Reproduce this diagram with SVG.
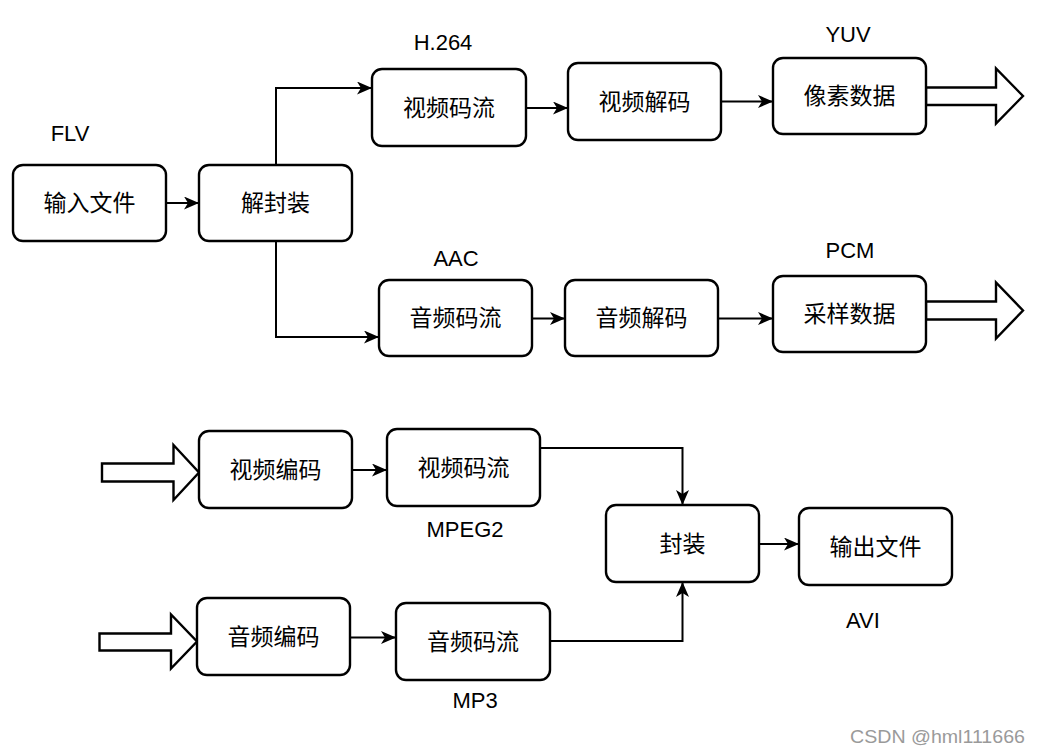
<svg xmlns="http://www.w3.org/2000/svg" width="1041" height="753" viewBox="0 0 1041 753">
<style>
.box{fill:#fff;stroke:#000;stroke-width:2.4}
.t{font-family:"Liberation Sans","Noto Sans CJK SC",sans-serif;font-size:23px;fill:#000;text-anchor:middle;dominant-baseline:central}
.lbl{font-family:"Liberation Sans","Noto Sans CJK SC",sans-serif;font-size:22px;fill:#000;text-anchor:middle}
.c{fill:none;stroke:#000;stroke-width:2;marker-end:url(#ah)}
.big{fill:#fff;stroke:#000;stroke-width:2.4;stroke-linejoin:miter}
.wm{font-family:"Liberation Sans","Noto Sans CJK SC",sans-serif;font-size:18px;fill:#9a9a9a}
</style>
<defs>
<marker id="ah" markerUnits="userSpaceOnUse" markerWidth="16" markerHeight="14" refX="15" refY="6.5" orient="auto">
<path d="M0,0 L15,6.5 L0,13 L4,6.5 z" fill="#000"/>
</marker>
</defs>
<rect width="1041" height="753" fill="#fff"/>
<g id="connectors">
<path class="c" d="M166,203 L199,203"/>
<path class="c" d="M276,165 L276,88 L372,88"/>
<path class="c" d="M276,241 L276,337 L379,337"/>
<path class="c" d="M526,108 L568,108"/>
<path class="c" d="M721,101.5 L773,101.5"/>
<path class="c" d="M532,318.5 L565,318.5"/>
<path class="c" d="M718,318.5 L773,318.5"/>
<path class="c" d="M352,470 L387,470"/>
<path class="c" d="M350,637.5 L396,637.5"/>
<path class="c" d="M540,448 L682.5,448 L682.5,505"/>
<path class="c" d="M550,641 L682.5,641 L682.5,582"/>
<path class="c" d="M759,544 L799,544"/>
</g>
<g id="bigarrows">
<path class="big" d="M926,87.5 L996,87.5 L996,68.5 L1023,96 L996,123.5 L996,105 L926,105 Z"/>
<path class="big" d="M926,301.5 L996,301.5 L996,282.5 L1023,310.5 L996,338.5 L996,319.5 L926,319.5 Z"/>
<path class="big" d="M102,463.5 L173.5,463.5 L173.5,445 L199,472.5 L173.5,500 L173.5,481.5 L102,481.5 Z"/>
<path class="big" d="M99.5,633.5 L171,633.5 L171,614.5 L197,641.5 L171,668.5 L171,650.5 L99.5,650.5 Z"/>
</g>
<g id="n-input"><rect class="box" x="13" y="165" width="153" height="76" rx="10"/><text class="t" x="89.5" y="203">输入文件</text></g>
<g id="n-demux"><rect class="box" x="199" y="165" width="153" height="76" rx="10"/><text class="t" x="275.5" y="203">解封装</text></g>
<g id="n-vstream"><rect class="box" x="372" y="69" width="154" height="77" rx="10"/><text class="t" x="449" y="107.5">视频码流</text></g>
<g id="n-vdec"><rect class="box" x="568" y="63" width="153" height="77" rx="10"/><text class="t" x="644.5" y="101.5">视频解码</text></g>
<g id="n-pixel"><rect class="box" x="773" y="58" width="153" height="76" rx="10"/><text class="t" x="849.5" y="96">像素数据</text></g>
<g id="n-astream"><rect class="box" x="379" y="280" width="153" height="76" rx="10"/><text class="t" x="455.5" y="318">音频码流</text></g>
<g id="n-adec"><rect class="box" x="565" y="280" width="153" height="76" rx="10"/><text class="t" x="641.5" y="318">音频解码</text></g>
<g id="n-sample"><rect class="box" x="773" y="276" width="153" height="76" rx="10"/><text class="t" x="849.5" y="314">采样数据</text></g>
<g id="n-venc"><rect class="box" x="199" y="431" width="153" height="77" rx="10"/><text class="t" x="275.5" y="469.5">视频编码</text></g>
<g id="n-vstream2"><rect class="box" x="387" y="429" width="153" height="77" rx="10"/><text class="t" x="463.5" y="467.5">视频码流</text></g>
<g id="n-aenc"><rect class="box" x="197" y="598" width="153" height="77" rx="10"/><text class="t" x="273.5" y="636.5">音频编码</text></g>
<g id="n-astream2"><rect class="box" x="396" y="603" width="154" height="77" rx="10"/><text class="t" x="473" y="641.5">音频码流</text></g>
<g id="n-mux"><rect class="box" x="606" y="505" width="153" height="77" rx="10"/><text class="t" x="682.5" y="543.5">封装</text></g>
<g id="n-output"><rect class="box" x="799" y="508" width="153" height="77" rx="10"/><text class="t" x="875.5" y="546.5">输出文件</text></g>
<g id="labels">
<text class="lbl" x="70" y="141">FLV</text>
<text class="lbl" x="443" y="50">H.264</text>
<text class="lbl" x="848" y="42">YUV</text>
<text class="lbl" x="456" y="266">AAC</text>
<text class="lbl" x="850" y="258">PCM</text>
<text class="lbl" x="465" y="537">MPEG2</text>
<text class="lbl" x="475" y="708">MP3</text>
<text class="lbl" x="863" y="628">AVI</text>
</g>
<text class="wm" x="850" y="743" textLength="175" lengthAdjust="spacingAndGlyphs">CSDN @hml111666</text>
</svg>
